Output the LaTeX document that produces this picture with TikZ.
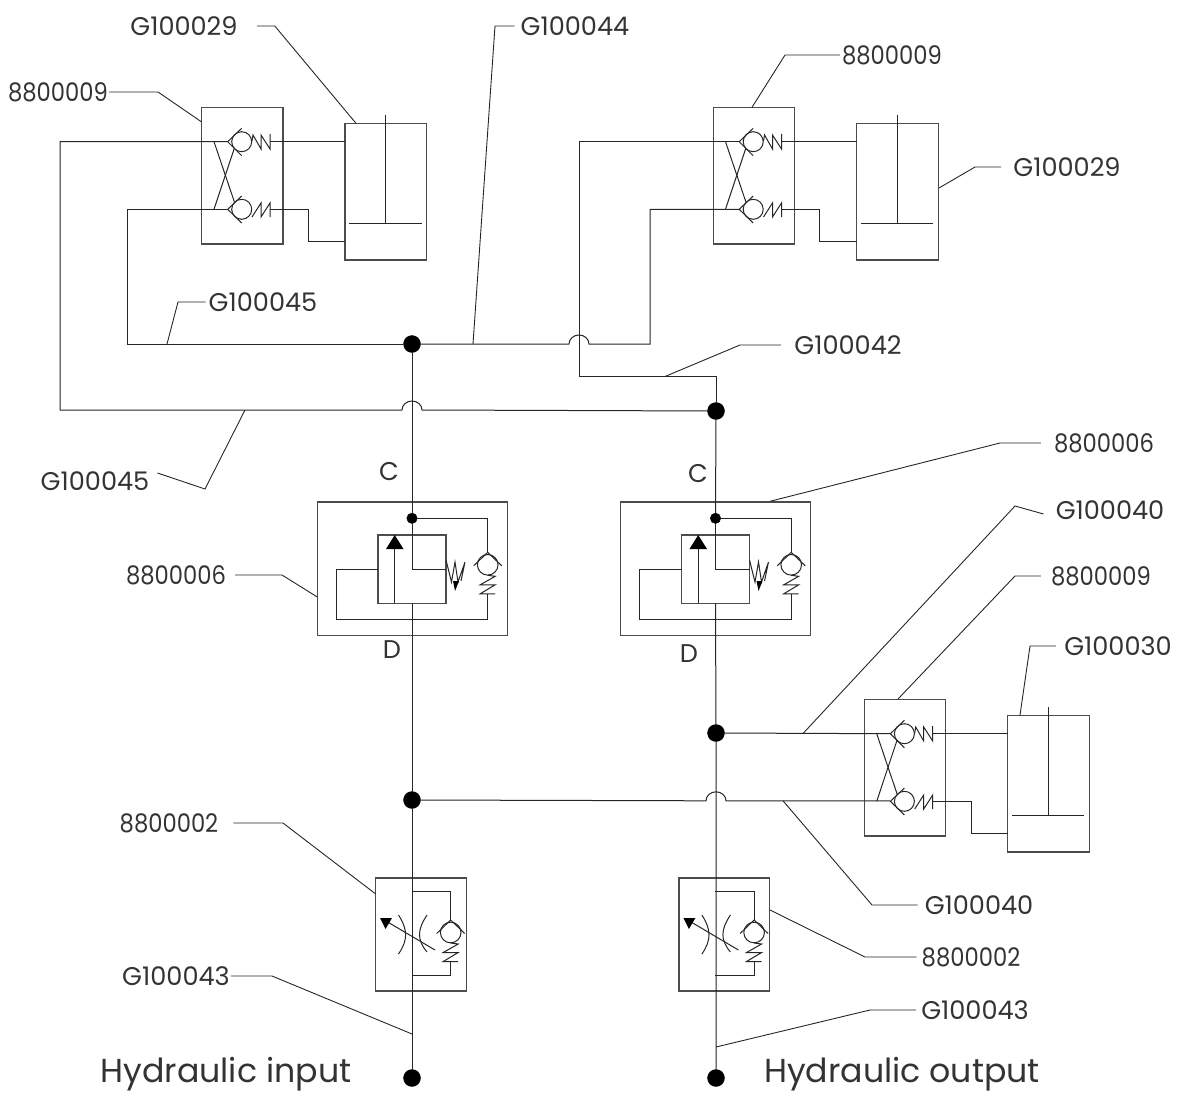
\documentclass[tikz,border=0pt]{standalone}
\usepackage{xcolor}
\usepackage{fontspec}
\setmainfont{Poppins}
\newfontface\digitface[FakeStretch=0.885]{Poppins}
\usepackage{tikz}
\usetikzlibrary{positioning}

\tikzset{
  pipe/.style={draw=black!85,line width=1pt},
  boxline/.style={draw=black!70,line width=1.3pt},
  leader/.style={draw=black!85,line width=0.9pt},
  tag/.style={font=\fontsize{25.6}{30}\selectfont,inner sep=1pt,text=black!80},
  numtag/.style={font=\fontsize{25.6}{30}\digitface,inner sep=1pt,text=black!80},
  port/.style={font=\fontsize{25.6}{30}\selectfont,inner sep=0pt,text=black!80},
  title/.style={font=\fontsize{33.2}{40}\selectfont,inner sep=0pt,text=black!80},
  junction/.style={circle,fill=black,draw=black,inner sep=0pt,minimum size=17pt},
  smalldot/.style={circle,fill=black,draw=black,inner sep=0pt,minimum size=10.5pt}
}

% check valve with spring, drawn upright, pipe on top at (0,0)
\newcommand{\uprightcheck}{
  \draw[pipe] (-14,13.5) -- (0,0) -- (14,13.5);
  \draw[pipe] (0,12.5) circle[radius=10.3];
  \draw[pipe] (0,23) -- (7.5,24) -- (-7.5,32.5) -- (7.5,32.5) -- (-7.5,41.5) -- (7.5,41.5);
}

% two crossed check valves and the cylinder beside them
\newcommand{\valveblock}[3]{
  \begin{scope}[shift={(#2,#3)}]
    \draw[boxline] (201.7,107.3) rectangle (283,244);
    \draw[boxline] (345,123.3) rectangle (426.7,260);
    \coordinate (#1 up) at (227.7,141.7);
    \coordinate (#1 lo) at (227.7,209.3);
    \draw[pipe] (241.7,128.3) -- (227.7,141.7) -- (241.7,155.7);
    \draw[pipe] (241.7,196) -- (227.7,209.3) -- (241.7,223);
    \draw[pipe] (241.7,141.7) circle[radius=10];
    \draw[pipe] (241.7,209.3) circle[radius=10];
    \draw[pipe] (252,141) -- (253,135) -- (261,149) -- (261,135) -- (270,149) -- (270,134);
    \draw[pipe] (252,217) -- (261,203) -- (261,217) -- (270,203) -- (270,217);
    \draw[pipe] (214,141.7) -- (234.3,201.7);
    \draw[pipe] (214,209.3) -- (234.3,148.3);
    \draw[pipe] (270,141.7) -- (345,141.7);
    \draw[pipe] (270,209.3) -- (308.3,209.3) -- (308.3,241.7) -- (345,241.7);
    \draw[pipe] (349.3,223.3) -- (421.7,223.3);
    \draw[pipe] (385.7,115) -- (385.7,223.3);
  \end{scope}
}

% relief block on a main line
\newcommand{\reliefblock}[2]{
  \begin{scope}[shift={(#2,0)}]
    \draw[boxline] (317.3,502) rectangle (507.3,635.7);
    \draw[boxline] (378,535) rectangle (446,603.3);
    \node[smalldot] (#1 dot) at (412,518.3) {};
    \coordinate (#1 bot) at (412,603.3);
    \draw[pipe] (#1 dot) -- (412,569) -- (446,569);
    \draw[pipe] (#1 dot) -- (487.7,518.3) -- (487.7,552.3);
    \begin{scope}[shift={(487.7,552.3)}]
      \uprightcheck
    \end{scope}
    \draw[pipe] (487.7,593.5) -- (487.7,619.3) -- (336.3,619.3) -- (336.3,569) -- (378,569);
    \draw[pipe] (394.7,603.3) -- (394.7,545);
    \fill[black] (394.7,535) -- (403.5,549) -- (386,549) -- cycle;
    \draw[pipe] (446,560) -- (451.5,582) -- (455,562) -- (458,582) -- (465,562) -- (461,581);
    \fill[black] (453,581) -- (459,581) -- (455,591) -- cycle;
  \end{scope}
}

% throttle block with its check valve
\newcommand{\throttleblock}[2]{
  \begin{scope}[shift={(#2,0)}]
    \draw[boxline] (375.7,878) rectangle (466.3,991);
    \draw[pipe] (412,891.7) -- (450.7,891.7) -- (450.7,920);
    \begin{scope}[shift={(450.7,920)}]
      \uprightcheck
    \end{scope}
    \draw[pipe] (450.7,961) -- (450.7,975) -- (412,975);
    \draw[pipe] (398.5,915) .. controls (408,930) and (408,940) .. (398.5,954);
    \draw[pipe] (427,915) .. controls (417,930) and (417,940) .. (427,952);
    \draw[pipe] (435,950) -- (386,921);
    \fill[black] (380,918) -- (392,918) -- (385.5,929) -- cycle;
  \end{scope}
}

\begin{document}
\begin{tikzpicture}[x=1pt,y=-1pt]
\useasboundingbox (0,0) rectangle (1185,1102);

% main line junctions
\node[junction] (jA) at (412,344) {};
\node[junction] (jB) at (716,411) {};
\node[junction] (jC) at (716,733) {};
\node[junction] (jD) at (412,800) {};
\node[junction] (jE) at (412,1078) {};
\node[junction] (jF) at (716,1078) {};

% blocks
\valveblock{vA}{0}{0}
\valveblock{vB}{511.5}{0}
\valveblock{vC}{662.7}{592}
\reliefblock{rA}{0}
\reliefblock{rB}{303.5}
\throttleblock{tA}{0}
\throttleblock{tB}{303.4}

% pipes
\draw[pipe] (jA) -- (rA dot);
\draw[pipe] (rA bot) -- (jD) -- (jE);
\draw[pipe] (jB) -- (rB dot);
\draw[pipe] (rB bot) -- (jC) -- (jF);
\draw[pipe] (vA up) -- (60,141.7) -- (60,410) -- (402,410)
  arc[start angle=180,end angle=360,x radius=10,y radius=9] -- (jB);
\draw[pipe] (vA lo) -- (127,209.3) -- (127,344) -- (jA);
\draw[pipe] (jA) -- (569,344) arc[start angle=180,end angle=360,x radius=10,y radius=9]
  -- (650,344) -- (650,209.3) -- (vB lo);
\draw[pipe] (vB up) -- (579,141.7) -- (579,376.5) -- (716,376.5) -- (jB);
\draw[pipe] (jC) -- (890.4,733.7);
\draw[pipe] (jD) -- (706,800.8) arc[start angle=180,end angle=360,x radius=10,y radius=9]
  -- (890.4,800.8);

% part labels
\node[tag] (tagA) at (184,26) {G100029};
\node[tag] (tagB) at (575,26) {G100044};
\node[numtag] (tagC) at (892,55) {8800009};
\node[numtag] (tagD) at (58,92) {8800009};
\node[tag] (tagE) at (1067,167) {G100029};
\node[tag] (tagF) at (263,302) {G100045};
\node[tag] (tagG) at (848,345) {G100042};
\node[tag] (tagH) at (95,481) {G100045};
\node[numtag] (tagI) at (1104,443) {8800006};
\node[tag] (tagJ) at (1110,510) {G100040};
\node[numtag] (tagK) at (1101,576) {8800009};
\node[tag] (tagL) at (1118,646) {G100030};
\node[numtag] (tagM) at (176,575) {8800006};
\node[numtag] (tagN) at (169,823) {8800002};
\node[tag] (tagO) at (979,905) {G100040};
\node[numtag] (tagP) at (971,957) {8800002};
\node[tag] (tagQ) at (176,976) {G100043};
\node[tag] (tagR) at (975,1010) {G100043};

% leader lines
\draw[leader] ([xshift=18pt]tagA.east) -- ++(18,0) -- (356,123.3);
\draw[leader] ([xshift=-5pt]tagB.west) -- (495,26) -- (473,344);
\draw[leader] ([xshift=-1pt]tagC.west) -- (785,55) -- (752,107.3);
\draw[leader] (tagD.east) -- (158,92) -- (201.7,122);
\draw[leader] ([xshift=-11pt]tagE.west) -- (975,167) -- (939,188);
\draw[leader] ([xshift=-2pt]tagF.west) -- (178,302) -- (167,344);
\draw[leader] ([xshift=-12pt]tagG.west) -- (740,345) -- (665,376.5);
\draw[leader] ([xshift=7pt,yshift=8pt]tagH.east) -- (205,489) -- (245,410);
\draw[leader] ([xshift=-12pt]tagI.west) -- (1000,443) -- (770,501.3);
\draw[leader] ([xshift=-11pt,yshift=-4pt]tagJ.west) -- (1015,506) -- (803,733.5);
\draw[leader] ([xshift=-9pt]tagK.west) -- (1015,576) -- (898,699);
\draw[leader] ([xshift=-7pt]tagL.west) -- (1030,646) -- (1020,715);
\draw[leader] ([xshift=8pt]tagM.east) -- (282,575) -- (317.3,597);
\draw[leader] ([xshift=14pt]tagN.east) -- (283,823) -- (375.7,894);
\draw[leader] ([xshift=-6pt]tagO.west) -- (872,905) -- (783,800.8);
\draw[leader] ([xshift=-4pt]tagP.west) -- (865,957) -- (770,910);
\draw[leader] (tagQ.east) -- (272,976) -- (412,1034);
\draw[leader] ([xshift=-4pt]tagR.west) -- (870,1010) -- (716,1047);

% ports and titles
\node[port] (portA) at (389,472) {C};
\node[port] (portB) at (392,650) {D};
\node[port] (portC) at (698,474) {C};
\node[port] (portD) at (689,654) {D};
\node[title] (inTitle) at (226,1074) {Hydraulic input};
\node[title] (outTitle) at (902,1074) {Hydraulic output};
\end{tikzpicture}
\end{document}
